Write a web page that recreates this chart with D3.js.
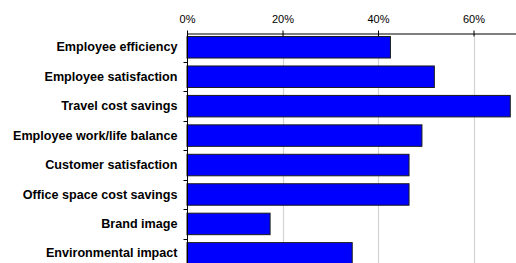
<!DOCTYPE html>
<html>
<head>
<meta charset="utf-8">
<script src="https://cdn.jsdelivr.net/npm/d3@7"></script>
<style>
body { margin: 0; background: #fff; }
svg { display: block; font-family: "Liberation Sans", Arial, sans-serif; }
</style>
</head>
<body>
<div id="chart"></div>
<script>
var categories = ['Employee efficiency', 'Employee satisfaction', 'Travel cost savings',
    'Employee work/life balance', 'Customer satisfaction', 'Office space cost savings',
    'Brand image', 'Environmental impact'];
var values = [0.426, 0.518, 0.677, 0.492, 0.465, 0.465, 0.174, 0.346];
var tickValues = [0, 0.2, 0.4, 0.6];

var width = 516, height = 263;
var x0 = 187, axisY = 33;

var svg = d3.select('#chart')
    .append('svg')
    .attr('width', width)
    .attr('height', height);

var xS = d3.scaleLinear()
    .domain([0, 0.7])
    .range([x0, x0 + 95.5 * 3.5]);

var yS = d3.scaleBand()
    .domain(categories)
    .range([axisY, axisY + 29.33 * 8])
    .paddingInner(0.27)
    .paddingOuter(0.12);

// gridlines
svg.append('g')
    .selectAll('line')
    .data(tickValues.slice(1))
    .enter()
    .append('line')
    .attr('x1', function (d) { return Math.round(xS(d)) + 0.5; })
    .attr('x2', function (d) { return Math.round(xS(d)) + 0.5; })
    .attr('y1', axisY)
    .attr('y2', height)
    .attr('stroke', '#d4d4d4')
    .attr('stroke-width', 1.2);

svg.selectAll('rect.bar')
    .data(values)
    .enter()
    .append('rect')
    .attr('class', 'bar')
    .attr('x', xS(0))
    .attr('y', function (d, i) { return yS(categories[i]); })
    .attr('width', function (d) { return xS(d) - xS(0); })
    .attr('height', yS.bandwidth())
    .attr('fill', '#0000ff')
    .attr('stroke', '#1a1a1a')
    .attr('stroke-width', 1);

// top axis
var xAxis = svg.append('g')
    .attr('transform', 'translate(0,' + (axisY + 0.5) + ')')
    .call(d3.axisTop(xS).tickValues(tickValues).tickFormat(d3.format('.0%')).tickSize(3).tickSizeOuter(0));
xAxis.select('.domain').attr('stroke', '#000');
xAxis.selectAll('.tick line').attr('y2', 3).attr('y1', -3);
xAxis.selectAll('.tick text')
    .attr('y', -11)
    .style('font-size', '11px')
    .attr('fill', '#000');

// left axis
var yAxis = svg.append('g')
    .attr('transform', 'translate(' + (x0 + 0.5) + ',0)')
    .call(d3.axisLeft(yS).tickSize(0).tickPadding(10));
yAxis.select('.domain').remove();
yAxis.append('line')
    .attr('x1', 0).attr('x2', 0)
    .attr('y1', axisY).attr('y2', height)
    .attr('stroke', '#000');
yAxis.selectAll('.sep')
    .data(categories.slice(1))
    .enter()
    .append('line')
    .attr('x1', -4).attr('x2', 0)
    .attr('y1', function (d) { return Math.round(yS(d) - yS.step() * yS.paddingInner() / 2) + 0.5; })
    .attr('y2', function (d) { return Math.round(yS(d) - yS.step() * yS.paddingInner() / 2) + 0.5; })
    .attr('stroke', '#000');
yAxis.selectAll('.tick text')
    .style('font-size', '12.6px')
    .style('font-weight', 'bold')
    .attr('fill', '#000');
</script>
</body>
</html>
